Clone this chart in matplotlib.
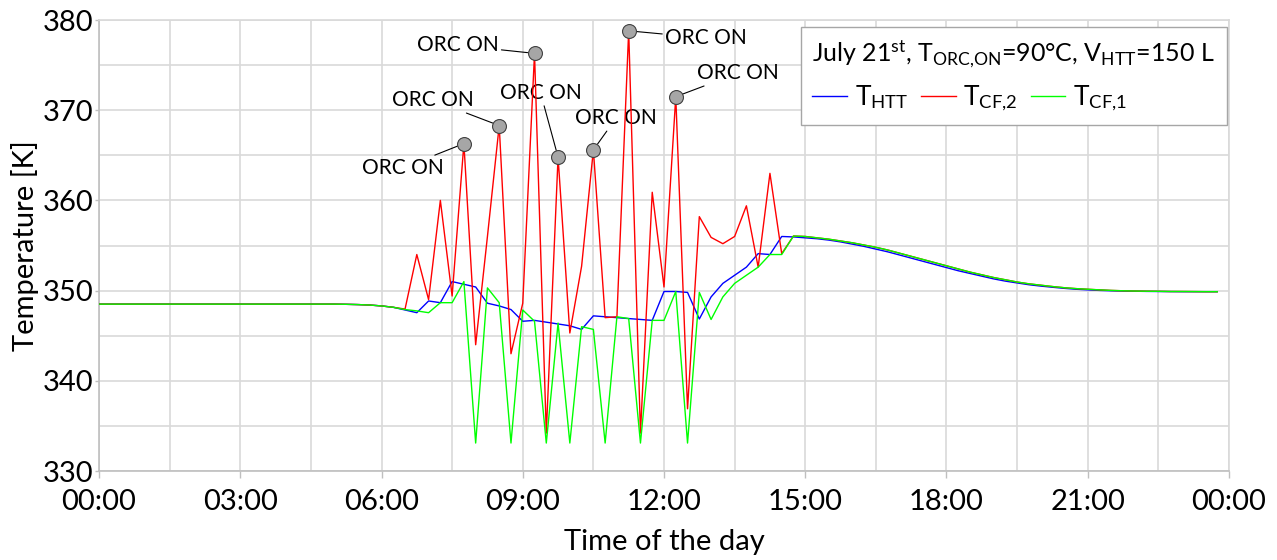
import matplotlib
matplotlib.use("Agg")
import matplotlib.pyplot as plt
from matplotlib.lines import Line2D
from matplotlib.ticker import FuncFormatter, MultipleLocator
import numpy as np

plt.rcParams['font.family'] = ['Lato', 'DejaVu Sans']
plt.rcParams['mathtext.fontset'] = 'custom'
plt.rcParams['mathtext.rm'] = 'Lato'
plt.rcParams['mathtext.it'] = 'Lato:italic'
plt.rcParams['mathtext.bf'] = 'Lato:bold'

# ---- data (15-min steps, 00:00 .. 23:45) ----
step_h = 0.25
base_night = [348.5] * 20 + [348.5, 348.48, 348.45, 348.4, 348.3, 348.15]   # 00:00-06:15

htt_day = [347.85, 347.55, 348.85, 348.66, 351.0, 350.7, 350.4, 348.6, 348.3, 347.9,
           346.6, 346.7, 346.5, 346.3, 346.1, 345.7, 347.2, 347.1, 347.0, 346.9,
           346.8, 346.7, 349.9, 349.9, 349.8, 346.85, 349.3, 350.8, 351.7, 352.6,
           354.1, 354.0, 356.0, 355.95]                                        # 06:30-14:45
cf2_day = [347.95, 354.0, 349.0, 360.0, 349.4, 366.3, 344.0, 356.0, 368.3, 343.0,
           348.6, 376.3, 334.2, 364.8, 345.3, 352.7, 365.6, 347.0, 347.1, 378.8,
           334.2, 360.9, 350.4, 371.5, 336.9, 358.2, 355.9, 355.2, 356.0, 359.4,
           352.6, 363.0, 354.1, 356.05]
cf1_day = [347.9, 347.75, 347.55, 348.66, 348.66, 351.0, 333.1, 350.3, 348.66, 333.1,
           347.85, 346.6, 333.1, 346.4, 333.1, 346.0, 345.7, 333.1, 347.1, 346.9,
           333.1, 346.7, 346.7, 349.9, 333.1, 349.8, 346.8, 349.3, 350.8, 351.7,
           352.6, 354.0, 354.0, 356.05]

htt_eve = [355.85, 355.75, 355.6, 355.4, 355.15, 354.9, 354.6, 354.3, 353.95, 353.6,
           353.25, 352.9, 352.55, 352.2, 351.9, 351.6, 351.3, 351.05, 350.85, 350.65,
           350.5, 350.37, 350.25, 350.15, 350.08, 350.02, 349.98, 349.95, 349.93, 349.91,
           349.9, 349.89, 349.88, 349.88, 349.88, 349.88]                      # 15:00-23:45
cf1_eve = [356.0, 355.85, 355.7, 355.5, 355.3, 355.05, 354.8, 354.5, 354.15, 353.8,
           353.45, 353.1, 352.75, 352.4, 352.05, 351.75, 351.45, 351.2, 350.95, 350.75,
           350.6, 350.45, 350.32, 350.22, 350.15, 350.08, 350.02, 349.98, 349.95, 349.93,
           349.92, 349.9, 349.9, 349.89, 349.88, 349.88]
cf2_eve = list(cf1_eve)

T_HTT = np.array(base_night + htt_day + htt_eve)
T_CF2 = np.array(base_night + cf2_day + cf2_eve)
T_CF1 = np.array(base_night + cf1_day + cf1_eve)
hours = np.arange(len(T_HTT)) * step_h

# ORC switch-on events (time of red peak) and label positions
orc_on_times = [7.75, 8.5, 9.25, 9.75, 10.5, 11.25, 12.25]
orc_label_pos = [(6.45, 363.6), (7.09, 371.1), (7.62, 377.2), (9.38, 371.9),
                 (10.98, 369.1), (12.89, 378.0), (13.57, 374.1)]

# ---- figure ----
fig = plt.figure(figsize=(12.77, 5.60), dpi=100)
ax = fig.add_axes([99/1277, 1 - 471/560, (1229-99)/1277, (471-20)/560])

gridc = '#d9d9d9'
ax.set_xlim(0, 24)
ax.set_ylim(330, 380)
ax.xaxis.set_major_locator(MultipleLocator(3))
ax.xaxis.set_minor_locator(MultipleLocator(1.5))
ax.yaxis.set_major_locator(MultipleLocator(10))
ax.yaxis.set_minor_locator(MultipleLocator(5))
ax.xaxis.set_major_formatter(FuncFormatter(lambda v, p: f"{int(round(v)) % 24:02d}:00"))
ax.grid(True, which='both', color=gridc, lw=1.2, zorder=0)
ax.set_axisbelow(True)
for s in ['top', 'right']:
    ax.spines[s].set_color(gridc)
    ax.spines[s].set_linewidth(1.2)
for s in ['left', 'bottom']:
    ax.spines[s].set_color('#bfbfbf')
    ax.spines[s].set_linewidth(1.2)
ax.tick_params(axis='x', which='major', length=5, width=1, color='#bfbfbf', labelsize=21, pad=8)
ax.tick_params(axis='y', which='major', length=3, width=1, color='#bfbfbf', labelsize=21, pad=1)
ax.tick_params(which='minor', length=0)

ax.plot(hours, T_HTT, color='#0000ff', lw=1.0, zorder=3)
ax.plot(hours, T_CF2, color='#ff0000', lw=1.0, zorder=4)
ax.plot(hours, T_CF1, color='#00ff00', lw=1.0, zorder=5)

peak_vals = [T_CF2[int(round(t / step_h))] for t in orc_on_times]
ax.plot(orc_on_times, peak_vals, ls='none', marker='o', ms=10, mfc='#a6a6a6',
        mec='#404040', mew=0.8, zorder=6, clip_on=False)
for (t, v), (tx, ty) in zip(zip(orc_on_times, peak_vals), orc_label_pos):
    ax.annotate('ORC ON', xy=(t, v), xytext=(tx, ty), ha='center', va='center',
                fontsize=15, annotation_clip=False,
                arrowprops=dict(arrowstyle='-', color='black', lw=0.8, shrinkA=0, shrinkB=5))

ax.set_xlabel('Time of the day', fontsize=21, labelpad=10)
ax.set_ylabel('Temperature [K]', fontsize=21, labelpad=3)

handles = [Line2D([], [], color='#0000ff', lw=1.0),
           Line2D([], [], color='#ff0000', lw=1.0),
           Line2D([], [], color='#00ff00', lw=1.0)]
labels = [r'T$_{\mathrm{HTT}}$', r'T$_{\mathrm{CF{,}2}}$', r'T$_{\mathrm{CF{,}1}}$']
leg = ax.legend(handles, labels, ncol=3, loc='upper right',
                bbox_to_anchor=((1226.7-99)/1130, (471-26.7)/451),
                title=r'July 21$^{\mathrm{st}}$, T$_{\mathrm{ORC{,}ON}}$=90°C, V$_{\mathrm{HTT}}$=150 L',
                title_fontsize=18, fontsize=19, frameon=True, fancybox=False,
                edgecolor='#a6a6a6', framealpha=1, handlelength=1.3, handletextpad=0.3,
                columnspacing=0.5, borderpad=0.45, borderaxespad=0, alignment='left')
leg.get_frame().set_linewidth(1.0)
leg.set_zorder(10)

fig.savefig('out.png', dpi=100)
